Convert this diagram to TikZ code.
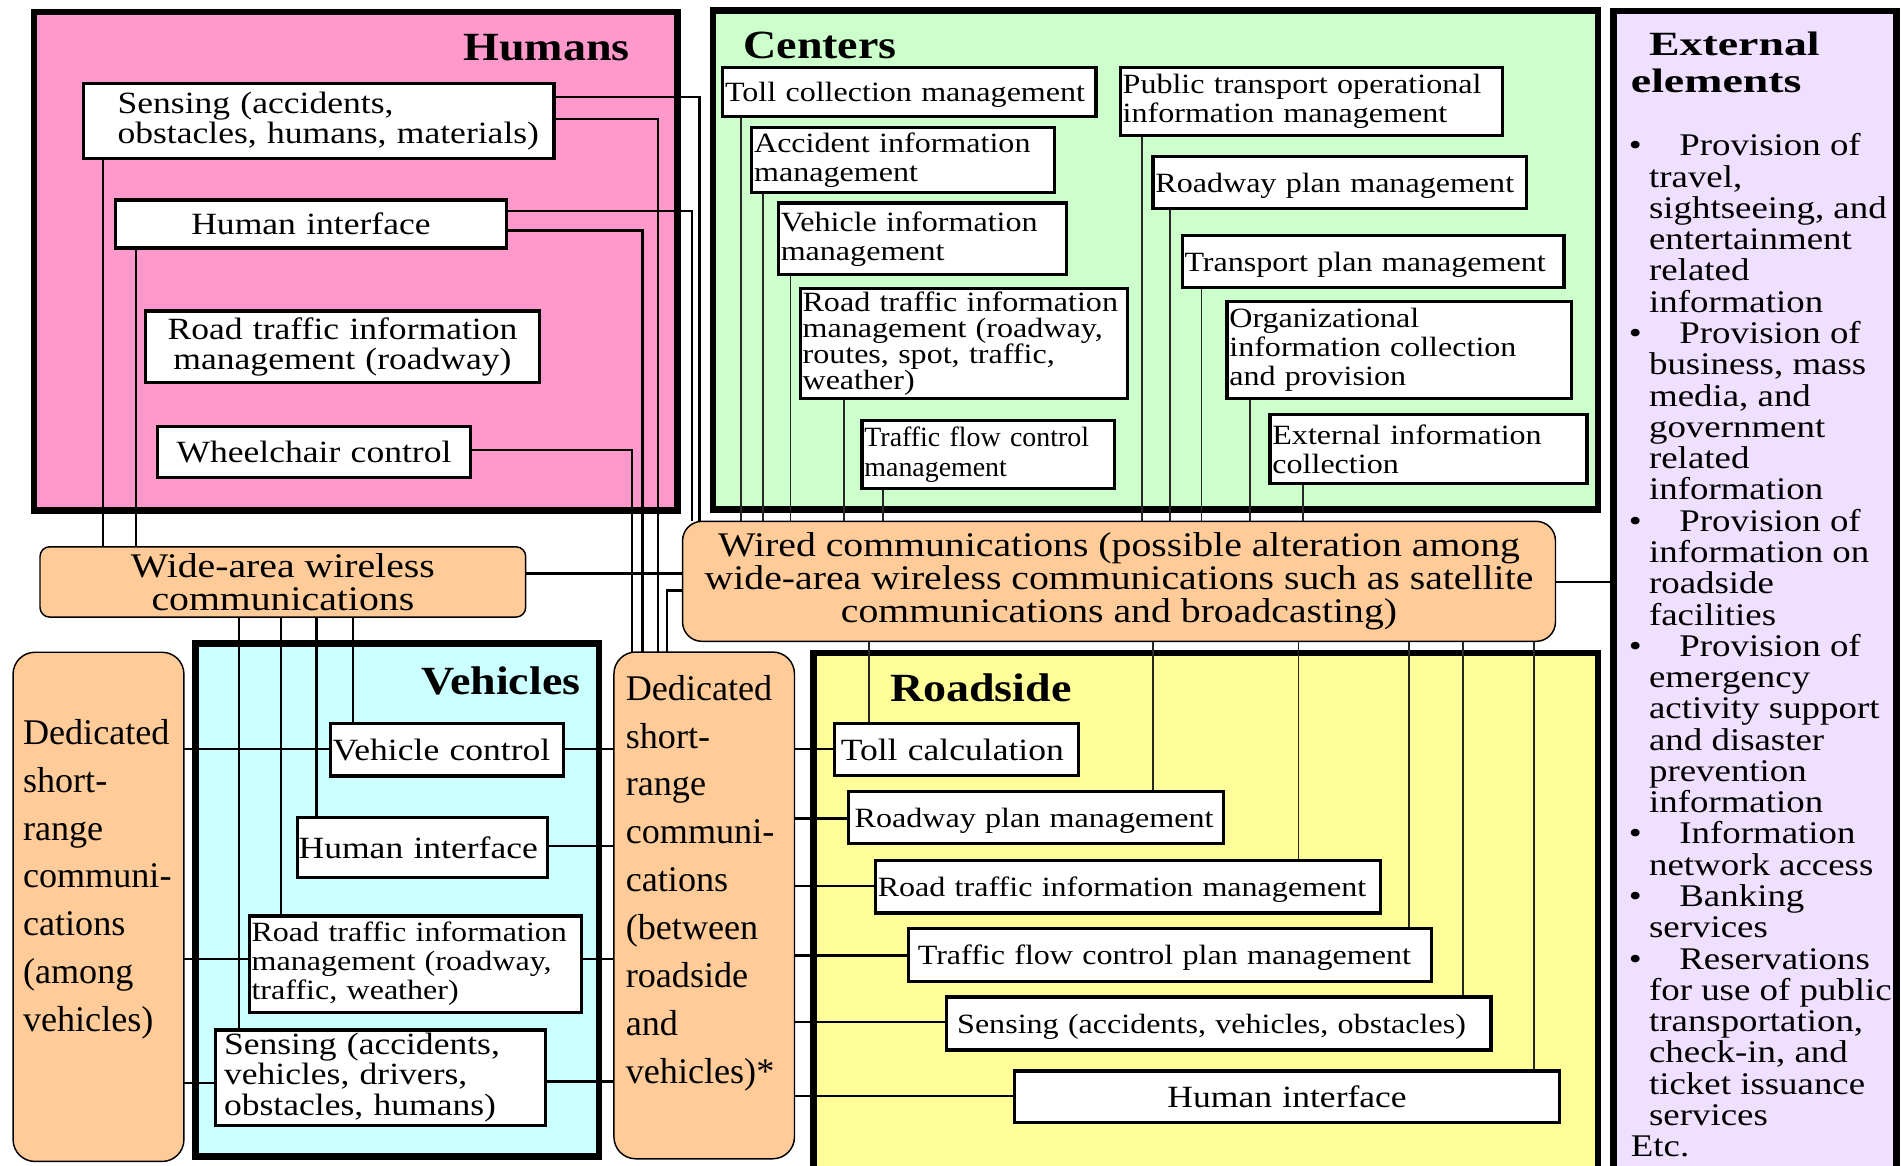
\documentclass[tikz,border=0pt]{standalone}
\usepackage{fontspec}
\setmainfont{Liberation Serif}[FakeStretch=1.15]
\newfontfamily\plainserif{Liberation Serif}
\newfontfamily\extserif{Liberation Serif}[FakeStretch=1.17]
\newfontfamily\extheadserif{Liberation Serif}[FakeStretch=1.35]

\definecolor{humanpink}{RGB}{255,153,204}
\definecolor{centergreen}{RGB}{204,255,204}
\definecolor{vehiclecyan}{RGB}{204,255,255}
\definecolor{roadyellow}{RGB}{255,255,153}
\definecolor{commtan}{RGB}{255,204,153}
\definecolor{extlilac}{RGB}{239,224,255}

\lineskiplimit=-100pt
\newcommand{\extitem}{\llap{\textbullet\hspace{6pt}}\hspace*{25pt}}

\pgfdeclarelayer{regions}
\pgfdeclarelayer{wires}
\pgfsetlayers{regions,wires,main}

\begin{document}
\begin{tikzpicture}[x=1pt, y=-1pt,
    regionbox/.style={draw, line width=5.5pt, inner sep=0pt, outer sep=0pt, anchor=north west},
    regiontitle/.style={font=\bfseries\fontsize{33}{33}\selectfont, inner sep=0pt},
    unitbox/.style={draw, fill=white, line width=2.6pt, inner xsep=3pt, inner ysep=0pt, outer sep=0pt, align=left, font=\fontsize{23}{24}\selectfont},
    oneline/.style={text depth=0pt},
    bigtext/.style={font=\fontsize{25.5}{25}\selectfont},
    commbox/.style={draw, fill=commtan, line width=1.2pt, inner sep=0pt, outer sep=0pt, align=center, font=\fontsize{28.5}{27}\selectfont},
    dsrctext/.style={font=\plainserif\fontsize{29.8}{39.5}\selectfont, align=left, inner sep=0pt, anchor=north west},
    exthead/.style={font=\extheadserif\bfseries\fontsize{28}{31}\selectfont, align=left, inner sep=0pt, anchor=north west},
    extlist/.style={font=\extserif\fontsize{26}{25.8}\selectfont, align=left, inner sep=0pt, anchor=north west},
    wire/.style={line width=1.9pt},
    thinwire/.style={line width=1.5pt, black!85}]
    \useasboundingbox (0,0) rectangle (1568,961);

    % Regions {humans, centers, vehicles, roadside, external}
    \begin{pgfonlayer}{regions}
    \node [regionbox, fill=humanpink,   minimum width=530.6pt, minimum height=410.8pt] (humans)   at (28,10)      {};
    \node [regionbox, fill=centergreen, minimum width=730pt,   minimum height=411.5pt] (centers)  at (588,8.5)    {};
    \node [regionbox, fill=vehiclecyan, minimum width=332.6pt, minimum height=423pt]   (vehicles) at (161.4,531)  {};
    \node [regionbox, fill=roadyellow,  minimum width=647pt,   minimum height=440pt]   (roadside) at (671,538.6)  {};
    \node [regionbox, fill=extlilac,    minimum width=233pt,   minimum height=970pt]   (external) at (1331,9)     {};
    \end{pgfonlayer}

    \node [regiontitle, anchor=base east] (humansTitle)   at ([shift={(-39,40)}]humans.north east)   {Humans};
    \node [regiontitle, anchor=base west] (centersTitle)  at ([shift={(25,39.5)}]centers.north west) {Centers};
    \node [regiontitle, anchor=base east] (vehiclesTitle) at ([shift={(-15,42)}]vehicles.north east) {Vehicles};
    \node [regiontitle, anchor=base west] (roadsideTitle) at ([shift={(63,40.4)}]roadside.north west) {Roadside};

    % Humans
    \node [unitbox, bigtext, inner xsep=10pt, text width=368pt, minimum height=62pt] (hSense) at (263,100)    {\hspace*{18pt}Sensing (accidents,\\\hspace*{18pt}obstacles, humans, materials)};
    \node [unitbox, oneline, bigtext, align=center, text width=317pt, minimum height=39.5pt]  (hHI)    at (256.5,184.75) {Human interface};
    \node [unitbox, bigtext, align=center, text width=319pt, minimum height=59pt]    (hRoad)  at (282.5,286)  {Road traffic information\\management (roadway)};
    \node [unitbox, oneline, bigtext, align=center, text width=252pt, minimum height=42pt]    (hWheel) at (259,373)    {Wheelchair control};

    % Centers
    \node [unitbox, oneline, inner xsep=2pt, text width=304pt, minimum height=40pt]   (cToll)    at (750,76)       {Toll collection management};
    \node [unitbox, inner xsep=2pt, text width=246pt, minimum height=54pt]   (cAcc)     at (745,132)      {Accident information\\management};
    \node [unitbox, inner xsep=2pt, text width=234pt, minimum height=59pt]   (cVeh)     at (761,197)      {Vehicle information\\management};
    \node [unitbox, inner xsep=2pt, text width=266pt, minimum height=91pt, font=\fontsize{23}{21.3}\selectfont] (cRoad) at (795,283.5) {Road traffic information\\management (roadway,\\routes, spot, traffic,\\weather)};
    \node [unitbox, inner xsep=2pt, text width=204pt, minimum height=56pt, font=\plainserif\fontsize{23}{24}\selectfont] (cFlow) at (815,375) {Traffic flow control\\management};
    \node [unitbox, inner xsep=2pt, text width=311pt, minimum height=55.6pt] (cPub)     at (1081.5,83.8)  {Public transport operational\\information management};
    \node [unitbox, oneline, inner xsep=2pt, text width=304pt, minimum height=43pt]   (cRoadway) at (1105,150.5)   {Roadway plan management};
    \node [unitbox, oneline, inner xsep=2pt, text width=311pt, minimum height=42.5pt] (cTrans)   at (1132.5,215.75) {Transport plan management};
    \node [unitbox, inner xsep=2pt, text width=280pt, minimum height=80pt]   (cOrg)     at (1154,288.55)  {Organizational\\information collection\\and provision};
    \node [unitbox, inner xsep=2pt, text width=257.5pt, minimum height=57pt] (cExt)     at (1178.25,370.5) {External information\\collection};

    % Vehicles
    \node [unitbox, oneline, bigtext, inner xsep=2pt, text width=188.4pt, minimum height=43.2pt] (vCtrl)  at (368.6,618.4)  {Vehicle control};
    \node [unitbox, oneline, bigtext, inner xsep=1pt, text width=204.4pt, minimum height=49.8pt] (vHI)    at (348.5,698.9)  {Human interface};
    \node [unitbox, inner xsep=2pt, text width=269.9pt, minimum height=79.3pt]          (vRoad)  at (342.45,795.15) {Road traffic information\\management (roadway,\\traffic, weather)};
    \node [unitbox, bigtext, inner xsep=7pt, text width=258.2pt, minimum height=78.5pt] (vSense) at (313.9,888.75)  {Sensing (accidents,\\vehicles, drivers,\\obstacles, humans)};

    % Roadside
    \node [unitbox, oneline, bigtext, inner xsep=5pt, text width=190.9pt, minimum height=43pt]  (rToll)    at (788.95,618.3)  {Toll calculation};
    \node [unitbox, oneline, inner xsep=5pt, text width=299.3pt, minimum height=43pt]           (rRoadway) at (854.65,674.5)  {Roadway plan management};
    \node [unitbox, oneline, inner xsep=2pt, text width=413pt, minimum height=43.3pt]           (rRoad)    at (930.5,731.35)  {Road traffic information management};
    \node [unitbox, oneline, inner xsep=8pt, text width=416pt, minimum height=43.5pt]           (rFlow)    at (965,787.75)    {Traffic flow control plan management};
    \node [unitbox, oneline, inner xsep=9pt, text width=431.3pt, minimum height=43.6pt]         (rSense)   at (1005.15,844.2) {Sensing (accidents, vehicles, obstacles)};
    \node [unitbox, oneline, bigtext, align=center, text width=443.7pt, minimum height=42.6pt]  (rHI)      at (1061.65,904.7) {Human interface};

    % Communications
    \node [commbox, rounded corners=8pt,  minimum width=400.6pt, minimum height=58pt]  (wide)  at (233.3,480)   {Wide-area wireless\\communications};
    \node [commbox, rounded corners=16pt, minimum width=720pt,   minimum height=99pt]  (wired) at (923,479.5)   {Wired communications (possible alteration among\\wide-area wireless communications such as satellite\\communications and broadcasting)};
    \node [commbox, rounded corners=18pt, minimum width=140.9pt, minimum height=420pt] (dsrc1) at (81.25,748)   {};
    \node [commbox, rounded corners=18pt, minimum width=148.9pt, minimum height=418pt] (dsrc2) at (580.85,746.8) {};
    \node [dsrctext] (dsrc1Text) at ([shift={(8,55)}]dsrc1.north west)    {Dedicated\\short-\\range\\communi-\\cations\\(among\\vehicles)};
    \node [dsrctext] (dsrc2Text) at ([shift={(9.6,18.8)}]dsrc2.north west) {Dedicated\\short-\\range\\communi-\\cations\\(between\\roadside\\and\\vehicles)*};

    % External elements
    \node [exthead] (extTitle) at ([shift={(14,17)}]external.north west) {\hspace*{15pt}External\\elements};
    \node [extlist] (extList)  at ([shift={(29,101)}]external.north west)
        {\extitem Provision of\\travel,\\sightseeing, and\\entertainment\\related\\information\\
         \extitem Provision of\\business, mass\\media, and\\government\\related\\information\\
         \extitem Provision of\\information on\\roadside\\facilities\\
         \extitem Provision of\\emergency\\activity support\\and disaster\\prevention\\information\\
         \extitem Information\\network access\\
         \extitem Banking\\services\\
         \extitem Reservations\\for use of public\\transportation,\\check-in, and\\ticket issuance\\services\\
         \hspace*{-15pt}Etc.};

    % Paths
    \begin{pgfonlayer}{wires}
    \draw [wire] (hSense.south -| 85,0)  -- (wide.north -| 85,0);
    \draw [wire] (hHI.south -| 112,0)    -- (wide.north -| 112,0);
    \draw [wire] (hSense.east |- 0,80)   -| (wired.north -| 577,0);
    \draw [wire] (hSense.east |- 0,98)   -| (dsrc2.north -| 543,0);
    \draw [wire] (hHI.east |- 0,174)     -| (wired.north -| 571,0);
    \draw [wire] (hHI.east |- 0,190)     -| (dsrc2.north -| 530,0);
    \draw [wire] (hWheel.east |- 0,371)  -| (dsrc2.north -| 521,0);

    \draw [wire] (wide.east |- 0,473)    -- (wired.west |- 0,473);
    \draw [wire] (wired.west |- 0,487)   -| (dsrc2.north -| 550,0);
    \draw [wire] (wired.east |- 0,480)   -- (external.west |- 0,480);

    \foreach \x/\n in {197/vSense, 232/vRoad, 261/vHI, 291/vCtrl}
        \draw [wire] (wide.south -| \x,0) -- (\n.north -| \x,0);
    \foreach \x/\n in {611/cToll, 629/cAcc, 652/cVeh, 696/cRoad, 728/cFlow, 942/cPub, 965/cRoadway, 991/cTrans, 1031/cOrg, 1075/cExt}
        \draw [thinwire] (\n.south -| \x,0) -- (wired.north -| \x,0);
    \foreach \x/\n in {717/rToll, 951/rRoadway, 1071/rRoad, 1162/rFlow, 1207/rSense, 1265/rHI}
        \draw [thinwire] (wired.south -| \x,0) -- (\n.north -| \x,0);

    \foreach \y/\n in {618/vCtrl, 791/vRoad, 893/vSense}
        \draw [wire] (dsrc1.east |- 0,\y) -- (\n.west |- 0,\y);
    \foreach \y/\n in {618/vCtrl, 698/vHI, 791/vRoad, 892/vSense}
        \draw [wire] (\n.east |- 0,\y) -- (dsrc2.west |- 0,\y);
    \foreach \y/\n in {618/rToll, 675/rRoadway, 731/rRoad, 788/rFlow, 843/rSense, 904/rHI}
        \draw [wire] (dsrc2.east |- 0,\y) -- (\n.west |- 0,\y);
    \end{pgfonlayer}
\end{tikzpicture}
\end{document}
